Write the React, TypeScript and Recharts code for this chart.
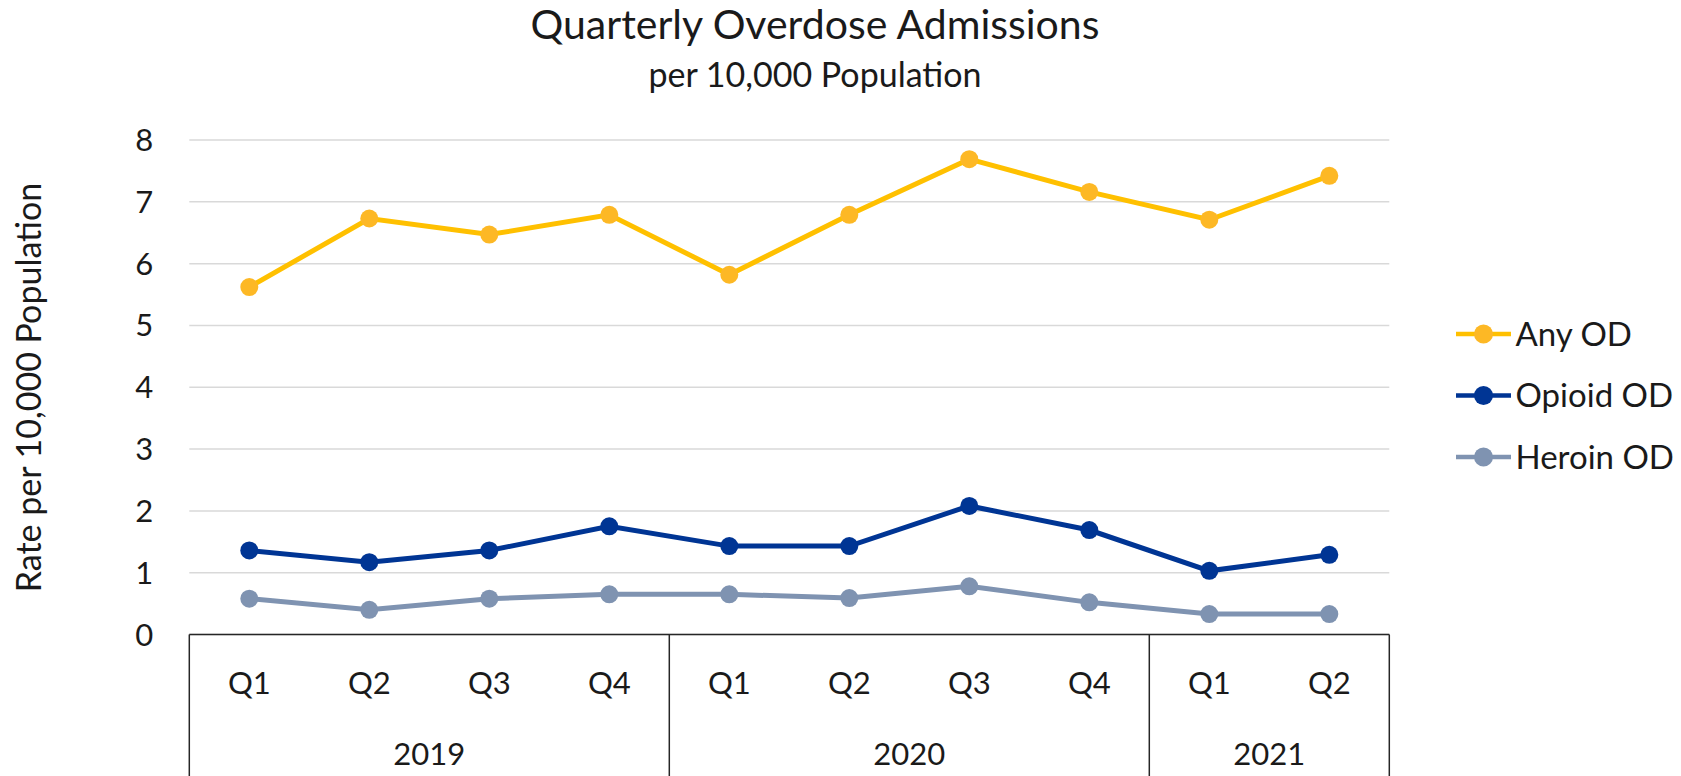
import React from "react";
import {
  LineChart,
  Line,
  XAxis,
  YAxis,
  CartesianGrid,
} from "recharts";

const quarters = ["Q1", "Q2", "Q3", "Q4", "Q1", "Q2", "Q3", "Q4", "Q1", "Q2"];
const years = ["2019", "2019", "2019", "2019", "2020", "2020", "2020", "2020", "2021", "2021"];
const anyOD = [5.62, 6.73, 6.47, 6.79, 5.82, 6.79, 7.69, 7.16, 6.71, 7.42];
const opioidOD = [1.36, 1.17, 1.36, 1.75, 1.43, 1.43, 2.08, 1.69, 1.03, 1.29];
const heroinOD = [0.58, 0.4, 0.58, 0.65, 0.65, 0.59, 0.78, 0.52, 0.33, 0.33];
const yTicks = [0, 1, 2, 3, 4, 5, 6, 7, 8];

const data = quarters.map((q, i) => ({
  quarter: q,
  year: years[i],
  "Any OD": anyOD[i],
  "Opioid OD": opioidOD[i],
  "Heroin OD": heroinOD[i],
}));

const series = [
  { key: "Any OD", line: "#FFC000", dot: "#FDB825" },
  { key: "Opioid OD", line: "#003594", dot: "#003594" },
  { key: "Heroin OD", line: "#7F93B1", dot: "#7F93B1" },
];

const W = 1681;
const H = 776;
const Y_AXIS_W = 189.3;
const RIGHT = 291.7;
const TOP = 140;
const X_AXIS_H = 141.5;
const PLOT_W = W - Y_AXIS_W - RIGHT;
const STEP = PLOT_W / quarters.length;

const FONT = "Lato, 'Open Sans', sans-serif";
const TEXT = "#1a1a1a";
const BOX = "#262626";

// legend placement
const LEG_X = 1456;
const LEG_Y = 334;
const LEG_GAP = 61.5;

function QuarterTick(props: any) {
  const { x, y, index } = props;
  const left = x - STEP / 2;
  const groupStart = index === 0 || years[index] !== years[index - 1];
  const last = index === quarters.length - 1;
  const groupSize = years.filter((yr) => yr === years[index]).length;
  return (
    <g>
      <text x={x} y={y + 59.8} textAnchor="middle" fontFamily={FONT} fontSize={31} fill={TEXT}>
        {quarters[index]}
      </text>
      {groupStart && (
        <line x1={left} x2={left} y1={y} y2={y + X_AXIS_H} stroke={BOX} strokeWidth={1.5} />
      )}
      {groupStart && (
        <text
          x={left + (groupSize * STEP) / 2}
          y={y + 130.5}
          textAnchor="middle"
          fontFamily={FONT}
          fontSize={31}
          fill={TEXT}
        >
          {years[index]}
        </text>
      )}
      {last && (
        <line x1={x + STEP / 2} x2={x + STEP / 2} y1={y} y2={y + X_AXIS_H} stroke={BOX} strokeWidth={1.5} />
      )}
    </g>
  );
}

export default function App() {
  return (
    <div style={{ position: "absolute", left: 0, top: 0, width: W, height: H, background: "#fff" }}>
      <LineChart
        width={W}
        height={H}
        data={data}
        margin={{ top: TOP, right: RIGHT, left: 0, bottom: 0 }}
      >
        <CartesianGrid vertical={false} stroke="#D9D9D9" strokeWidth={1.5} />
        <XAxis
          dataKey="quarter"
          height={X_AXIS_H}
          padding={{ left: STEP / 2, right: STEP / 2 }}
          axisLine={{ stroke: BOX, strokeWidth: 1.5 }}
          tickLine={false}
          tickSize={0}
          tickMargin={0}
          interval={0}
          tick={<QuarterTick />}
        />
        <YAxis
          width={Y_AXIS_W}
          domain={[0, 8]}
          ticks={yTicks}
          interval={0}
          axisLine={false}
          tickLine={false}
          tickSize={0}
          tickMargin={36}
          tick={{ fill: TEXT, fontSize: 31, fontFamily: FONT }}
        />
        {series.map((s) => (
          <Line
            key={s.key}
            dataKey={s.key}
            type="linear"
            stroke={s.line}
            strokeWidth={5}
            dot={{ r: 9, fill: s.dot, stroke: s.dot, strokeWidth: 0 }}
            activeDot={false}
            isAnimationActive={false}
          />
        ))}
      </LineChart>
      <svg
        width={W}
        height={H}
        style={{ position: "absolute", left: 0, top: 0, pointerEvents: "none" }}
      >
        <text x={815} y={39} textAnchor="middle" fontFamily={FONT} fontSize={41} fill={TEXT}>
          Quarterly Overdose Admissions
        </text>
        <text x={815} y={87} textAnchor="middle" fontFamily={FONT} fontSize={34} fill={TEXT}>
          per 10,000 Population
        </text>
        <text
          x={41}
          y={387.5}
          transform="rotate(-90 41 387.5)"
          textAnchor="middle"
          fontFamily={FONT}
          fontSize={34}
          fill={TEXT}
        >
          Rate per 10,000 Population
        </text>
        {series.map((s, i) => {
          const cy = LEG_Y + i * LEG_GAP;
          return (
            <g key={s.key}>
              <line x1={LEG_X} x2={LEG_X + 55} y1={cy} y2={cy} stroke={s.line} strokeWidth={4.5} />
              <circle cx={LEG_X + 27.5} cy={cy} r={9.5} fill={s.dot} />
              <text x={LEG_X + 59.5} y={cy + 11.5} fontFamily={FONT} fontSize={33} fill={TEXT}>
                {s.key}
              </text>
            </g>
          );
        })}
      </svg>
    </div>
  );
}
